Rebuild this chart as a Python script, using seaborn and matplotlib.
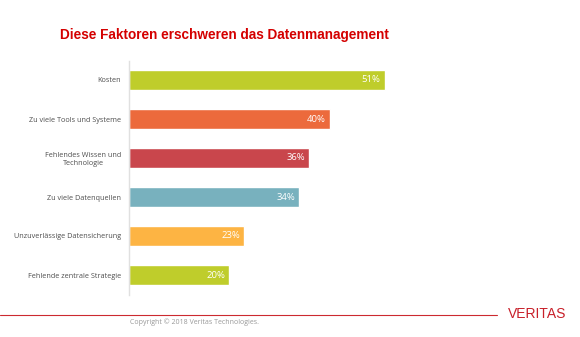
import matplotlib
matplotlib.use("Agg")
import matplotlib.pyplot as plt
import seaborn as sns
import pandas as pd
from matplotlib.lines import Line2D

categories = ["Kosten", "Zu viele Tools und Systeme", "Fehlendes Wissen und\nTechnologie",
              "Zu viele Datenquellen", "Unzuverlässige Datensicherung", "Fehlende zentrale Strategie"]
values = [51, 40, 36, 34, 23, 20]
colors = ["#bfcd2b", "#ec6a3c", "#c9464c", "#78b1be", "#fdb443", "#bfcd2b"]

title = "Diese Faktoren erschweren das Datenmanagement"
copyright_text = "Copyright © 2018 Veritas Technologies."

sns.set_theme(style="white")
plt.rcParams['font.family'] = ['Open Sans', 'DejaVu Sans']

df = pd.DataFrame({"cat": categories, "val": values})

fig = plt.figure(figsize=(5.8, 3.37), dpi=100)
ax = fig.add_axes([129/580, 1-294.5/337, 401/580, (294.5-60.5)/337])
sns.barplot(data=df, x="val", y="cat", hue="cat", palette=colors, legend=False,
            width=0.5, ax=ax, saturation=1)
ax.set_xlim(0, 80)
ax.set_ylim(5.5, -0.5)
ax.set_xlabel("")
ax.set_ylabel("")
ax.set_xticks([])
for s in ["top", "right", "bottom"]:
    ax.spines[s].set_visible(False)
ax.spines["left"].set_color("#e0e0e0")
ax.spines["left"].set_linewidth(1)
ax.tick_params(axis="y", length=0, pad=5.5, labelsize=5.2, labelcolor="#4d4d4d")
for lab in ax.get_yticklabels():
    lab.set_horizontalalignment("right")
    lab.set_multialignment("center")

for i, v in enumerate(values):
    ax.text(v - 0.8, i, f"{v}%", ha="right", va="center", color="white", fontsize=6.8)

fig.text(60/580, 1-35/337, title, color="#d40000", fontsize=9.8, fontweight="bold",
         family="Liberation Sans", ha="left", va="center")

fig.add_artist(Line2D([0, 497/580], [1-315/337, 1-315/337], color="#cc2a30", lw=0.8,
                      transform=fig.transFigure))
fig.text(195/580, 1-322/337, copyright_text, color="#999999", fontsize=5, ha="center", va="center")
fig.text(537/580, 1-314/337, "VERITAS", color="#c8202a", fontsize=10, ha="center", va="center",
         family="Liberation Sans")

fig.savefig("out.png", dpi=100)
